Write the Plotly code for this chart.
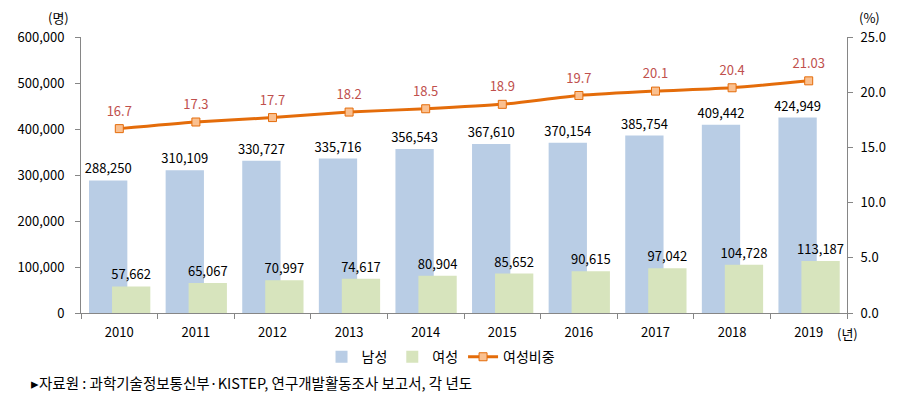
import plotly.graph_objects as go

years = ["2010", "2011", "2012", "2013", "2014", "2015", "2016", "2017", "2018", "2019"]
male = [288250, 310109, 330727, 335716, 356543, 367610, 370154, 385754, 409442, 424949]
female = [57662, 65067, 70997, 74617, 80904, 85652, 90615, 97042, 104728, 113187]
ratio = [16.7, 17.3, 17.7, 18.2, 18.5, 18.9, 19.7, 20.1, 20.4, 21.03]
ratio_labels = ["16.7", "17.3", "17.7", "18.2", "18.5", "18.9", "19.7", "20.1", "20.4", "21.03"]

FONT = "Noto Sans CJK KR, Malgun Gothic, sans-serif"

fig = go.Figure()
fig.add_trace(go.Bar(
    x=years, y=male, name="남성",
    marker=dict(color="#B9CDE5", line=dict(width=0)),
    width=0.5, offset=-0.395,
    text=[f"{v:,}" for v in male], textposition="outside", constraintext="none",
    textfont=dict(size=13, color="#000000", family=FONT),
    cliponaxis=False,
))
fig.add_trace(go.Bar(
    x=years, y=female, name="여성",
    marker=dict(color="#D7E4BD", line=dict(width=0)),
    width=0.5, offset=-0.095,
    text=[f"{v:,}" for v in female], textposition="outside", constraintext="none",
    textfont=dict(size=13, color="#000000", family=FONT),
    cliponaxis=False,
))
# invisible helper for label spacing above the ratio markers
fig.add_trace(go.Scatter(
    x=years, y=ratio, yaxis="y2", mode="markers+text", showlegend=False, hoverinfo="skip",
    marker=dict(size=14, color="rgba(0,0,0,0)"),
    text=ratio_labels, textposition="top center",
    textfont=dict(size=13, color="#C0504D", family=FONT),
    cliponaxis=False,
))
fig.add_trace(go.Scatter(
    x=years, y=ratio, name="여성비중", yaxis="y2",
    mode="lines+markers",
    line=dict(color="#E46C0A", width=3, shape="spline", smoothing=0.6),
    marker=dict(symbol="square", size=8, color="#FAC090", line=dict(color="#E46C0A", width=1)),
    cliponaxis=False,
))

fig.update_layout(
    width=887, height=389,
    margin=dict(l=73, r=48, t=29, b=84, autoexpand=False),
    paper_bgcolor="white", plot_bgcolor="white",
    barmode="overlay",
    font=dict(family=FONT, size=13, color="#000000"),
    showlegend=True,
    legend=dict(orientation="h", x=0.47, xanchor="center", y=-0.16, yanchor="middle",
                font=dict(size=14, family=FONT), itemwidth=30, traceorder="normal"),
    xaxis=dict(
        type="category", range=[-0.5, 9.5],
        showline=True, linecolor="#868686", linewidth=1,
        ticks="outside", tickson="boundaries", ticklen=5, tickcolor="#868686",
        showgrid=False, tickfont=dict(size=13), ticklabelstandoff=7,
    ),
    yaxis=dict(
        range=[0, 600000], dtick=100000, tickformat=",d",
        showline=True, linecolor="#868686", linewidth=1,
        ticks="outside", ticklen=5, tickcolor="#868686",
        showgrid=False, zeroline=False, tickfont=dict(size=13), ticklabelstandoff=8,
    ),
    yaxis2=dict(
        range=[0, 25], dtick=5, tickformat=".1f", overlaying="y", side="right",
        showline=True, linecolor="#868686", linewidth=1,
        ticks="outside", ticklen=5, tickcolor="#868686",
        showgrid=False, zeroline=False, tickfont=dict(size=13), ticklabelstandoff=5,
    ),
    annotations=[
        dict(text="(명)", xref="paper", yref="paper", x=-0.03, y=1.07, xanchor="center",
             yanchor="middle", showarrow=False, font=dict(size=13)),
        dict(text="(%)", xref="paper", yref="paper", x=1.03, y=1.07, xanchor="center",
             yanchor="middle", showarrow=False, font=dict(size=13)),
        dict(text="(년)", xref="paper", yref="paper", x=0.984, y=-0.075, xanchor="left",
             yanchor="middle", showarrow=False, font=dict(size=13)),
        dict(text="▸자료원 : 과학기술정보통신부·KISTEP, 연구개발활동조사 보고서, 각 년도",
             xref="paper", yref="paper", x=-0.068, y=-0.25, xanchor="left",
             yanchor="middle", showarrow=False, font=dict(size=14.5)),
    ],
)

fig.write_html("out.html")
